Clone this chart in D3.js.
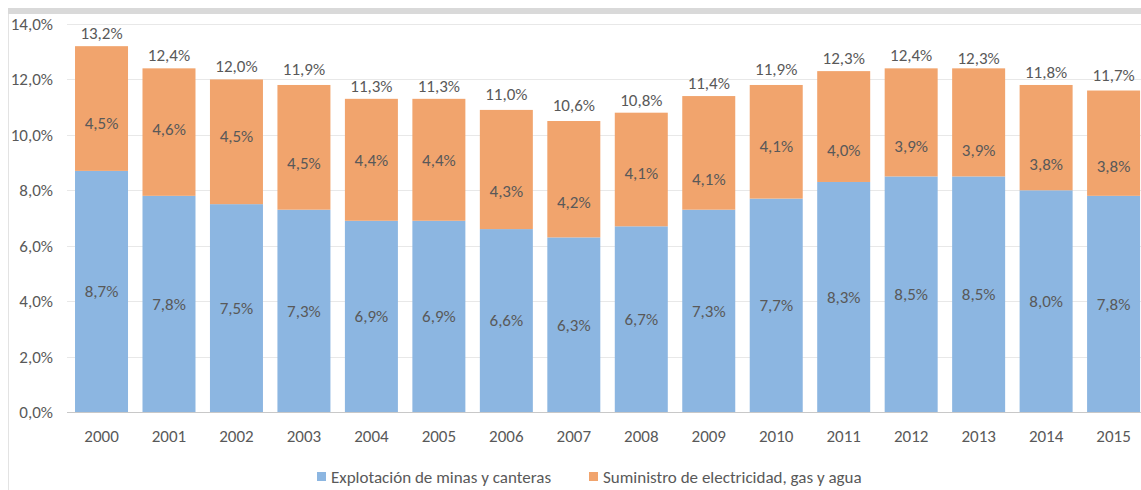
<!DOCTYPE html>
<html>
<head>
<meta charset="utf-8">
<script src="https://cdn.jsdelivr.net/npm/d3@7"></script>
<style>
  html, body { margin: 0; padding: 0; background: #fff; }
  svg { display: block; }
  text { font-family: Carlito, "Liberation Sans Narrow", "Liberation Sans", "Noto Sans", sans-serif; fill: #595959; }
</style>
</head>
<body>
<svg id="chart" width="1141" height="490"></svg>
<script>
// Share of GDP by sector, 2000-2015 (percent)
const years = ["2000","2001","2002","2003","2004","2005","2006","2007","2008","2009","2010","2011","2012","2013","2014","2015"];
const mining = [8.7, 7.8, 7.5, 7.3, 6.9, 6.9, 6.6, 6.3, 6.7, 7.3, 7.7, 8.3, 8.5, 8.5, 8.0, 7.8];
const utilities = [4.5, 4.6, 4.5, 4.5, 4.4, 4.4, 4.3, 4.2, 4.1, 4.1, 4.1, 4.0, 3.9, 3.9, 3.8, 3.8];
const totals = [13.2, 12.4, 12.0, 11.9, 11.3, 11.3, 11.0, 10.6, 10.8, 11.4, 11.9, 12.3, 12.4, 12.3, 11.8, 11.7];
const yTicks = [0, 2, 4, 6, 8, 10, 12, 14];
const seriesNames = ["Explotación de minas y canteras", "Suministro de electricidad, gas y agua"];
const colors = ["#8cb6e1", "#f1a46d"];

// Hand-placed label anchors for the upper segment (0 = segment top, 1 = segment bottom)
const utilLabelPos = [0.62, 0.48, 0.45, 0.63, 0.50, 0.50, 0.68, 0.70, 0.53, 0.73, 0.54, 0.71, 0.72, 0.76, 0.75, 0.72];

const FS = 17;
const svg = d3.select("#chart");
const fmt = v => d3.format(".1f")(v).replace(".", ",") + "%";

// frame decorations
svg.append("rect").attr("x", 8).attr("y", 8).attr("width", 1133).attr("height", 6).attr("fill", "#d9d9d9");
svg.append("line").attr("x1", 8.5).attr("x2", 8.5).attr("y1", 14).attr("y2", 490).attr("stroke", "#e3e3e3");

const plotLeft = 67.8, plotRight = 1147.3, plotTop = 24, plotBottom = 412;

const x = d3.scaleBand().domain(years).range([plotLeft, plotRight]).paddingInner(0.2145).paddingOuter(0.107);
const y = d3.scaleLinear().domain([0, 14]).range([plotBottom, plotTop]);

// gridlines
svg.append("g").selectAll("line").data(yTicks.filter(t => t > 0)).join("line")
  .attr("x1", 67).attr("x2", 1141)
  .attr("y1", d => Math.round(y(d)) + 0.5).attr("y2", d => Math.round(y(d)) + 0.5)
  .attr("stroke", "#e8e8e8");

// y axis labels
const yAxis = d3.axisLeft(y).tickValues(yTicks).tickFormat(d => fmt(d)).tickSize(0).tickPadding(0);
const gy = svg.append("g").attr("transform", `translate(53,0)`).call(yAxis);
gy.select(".domain").remove();
gy.selectAll("text").attr("font-size", FS).style("font-family", null).attr("fill", "#595959");

// stacked bars
const data = years.map((yr, i) => ({ yr, m: mining[i], u: utilities[i], t: totals[i], p: utilLabelPos[i] }));
const g = svg.append("g");
g.selectAll("rect.m").data(data).join("rect").attr("class", "m")
  .attr("x", d => x(d.yr)).attr("width", x.bandwidth())
  .attr("y", d => y(d.m)).attr("height", d => y(0) - y(d.m))
  .attr("fill", colors[0]);
g.selectAll("rect.u").data(data).join("rect").attr("class", "u")
  .attr("x", d => x(d.yr)).attr("width", x.bandwidth())
  .attr("y", d => y(d.m + d.u)).attr("height", d => y(d.m) - y(d.m + d.u))
  .attr("fill", colors[1]);

// x axis baseline and labels
svg.append("line").attr("x1", 67).attr("x2", 1141).attr("y1", plotBottom + 0.5).attr("y2", plotBottom + 0.5).attr("stroke", "#c8c8c8");
const xAxis = d3.axisBottom(x).tickSize(0).tickPadding(0);
const gx = svg.append("g").attr("transform", `translate(0,${plotBottom + 18})`).call(xAxis);
gx.select(".domain").remove();
gx.selectAll("text").attr("font-size", FS).style("font-family", null).attr("fill", "#595959");

// value labels
const lbl = svg.append("g").attr("font-size", FS).attr("text-anchor", "middle");
lbl.selectAll("text.m").data(data).join("text").attr("class", "m")
  .attr("x", d => x(d.yr) + x.bandwidth() / 2).attr("y", d => y(d.m / 2)).attr("dy", "0.35em")
  .text(d => fmt(d.m));
lbl.selectAll("text.u").data(data).join("text").attr("class", "u")
  .attr("x", d => x(d.yr) + x.bandwidth() / 2)
  .attr("y", d => y(d.m + d.u) + d.p * (y(d.m) - y(d.m + d.u))).attr("dy", "0.35em")
  .text(d => fmt(d.u));
lbl.selectAll("text.t").data(data).join("text").attr("class", "t")
  .attr("x", d => x(d.yr) + x.bandwidth() / 2).attr("y", d => y(d.t) - 7)
  .text(d => fmt(d.t));

// legend
const legend = svg.append("g").attr("font-size", FS);
const items = [{ x: 317, name: seriesNames[0], c: colors[0] }, { x: 589, name: seriesNames[1], c: colors[1] }];
items.forEach(it => {
  legend.append("rect").attr("x", it.x).attr("y", 472).attr("width", 9).attr("height", 9).attr("fill", it.c);
  legend.append("text").attr("x", it.x + 14).attr("y", 477).attr("dy", "0.35em").text(it.name);
});
</script>
</body>
</html>
